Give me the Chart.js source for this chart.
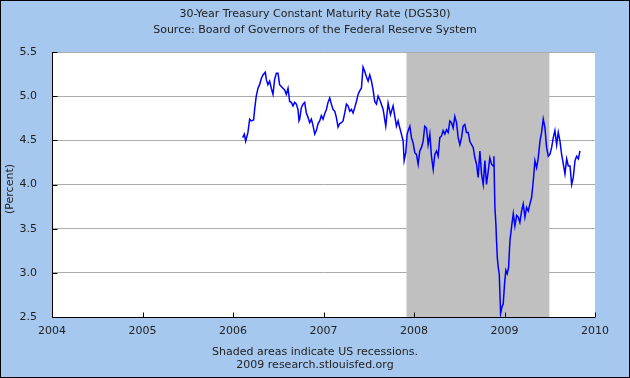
<!DOCTYPE html>
<html>
<head>
<meta charset="utf-8">
<script src="https://cdn.jsdelivr.net/npm/chart.js@4.4.1/dist/chart.umd.min.js"></script>
<style>
  html, body { margin: 0; padding: 0; background: #a6c8ee; }
  canvas { display: block; }
</style>
</head>
<body>
<canvas id="chart" width="630" height="378"></canvas>
<script>
// 30-Year Treasury Constant Maturity Rate (roughly weekly)
const yearFrac = [
  2006.107, 2006.125, 2006.140, 2006.165, 2006.184, 2006.202, 2006.228, 2006.239, 2006.257, 2006.276,
  2006.294, 2006.313, 2006.331, 2006.357, 2006.368, 2006.386, 2006.405, 2006.423, 2006.442, 2006.460,
  2006.479, 2006.497, 2006.515, 2006.534, 2006.552, 2006.571, 2006.589, 2006.608, 2006.626, 2006.644,
  2006.663, 2006.681, 2006.700, 2006.718, 2006.729, 2006.737, 2006.755, 2006.774, 2006.792, 2006.810,
  2006.829, 2006.847, 2006.866, 2006.884, 2006.903, 2006.921, 2006.940, 2006.958, 2006.976, 2006.995,
  2007.013, 2007.032, 2007.050, 2007.069, 2007.087, 2007.105, 2007.124, 2007.142, 2007.161, 2007.179,
  2007.198, 2007.216, 2007.235, 2007.253, 2007.271, 2007.290, 2007.308, 2007.327, 2007.345, 2007.364,
  2007.382, 2007.400, 2007.419, 2007.437, 2007.456, 2007.474, 2007.493, 2007.511, 2007.530, 2007.548,
  2007.566, 2007.585, 2007.603, 2007.622, 2007.659, 2007.688, 2007.714, 2007.740, 2007.769, 2007.788,
  2007.806, 2007.824, 2007.843, 2007.861, 2007.880, 2007.891, 2007.909, 2007.924, 2007.939, 2007.954,
  2007.972, 2007.990, 2008.009, 2008.027, 2008.046, 2008.064, 2008.083, 2008.101, 2008.119, 2008.138,
  2008.156, 2008.175, 2008.193, 2008.212, 2008.230, 2008.249, 2008.267, 2008.285, 2008.304, 2008.322,
  2008.341, 2008.359, 2008.378, 2008.396, 2008.414, 2008.433, 2008.451, 2008.470, 2008.488, 2008.507,
  2008.525, 2008.543, 2008.562, 2008.580, 2008.599, 2008.617, 2008.636, 2008.654, 2008.673, 2008.691,
  2008.709, 2008.728, 2008.746, 2008.765, 2008.783, 2008.801, 2008.820, 2008.838, 2008.857, 2008.875,
  2008.883, 2008.894, 2008.905, 2008.912, 2008.920, 2008.931, 2008.942, 2008.957, 2008.971, 2008.986,
  2009.001, 2009.015, 2009.030, 2009.045, 2009.060, 2009.078, 2009.097, 2009.115, 2009.134, 2009.152,
  2009.170, 2009.189, 2009.207, 2009.226, 2009.244, 2009.263, 2009.281, 2009.299, 2009.318, 2009.336,
  2009.355, 2009.373, 2009.392, 2009.410, 2009.428, 2009.447, 2009.465, 2009.484, 2009.502, 2009.521,
  2009.539, 2009.557, 2009.576, 2009.594, 2009.613, 2009.631, 2009.650, 2009.668, 2009.687, 2009.705,
  2009.724, 2009.742, 2009.760, 2009.779, 2009.797, 2009.816, 2009.834
];
const rate = [
  4.53, 4.57, 4.49, 4.59, 4.74, 4.72, 4.73, 4.85, 5.00, 5.09,
  5.13, 5.20, 5.24, 5.27, 5.19, 5.13, 5.17, 5.09, 5.02, 5.19,
  5.26, 5.26, 5.13, 5.11, 5.09, 5.07, 5.02, 5.09, 4.94, 4.93,
  4.89, 4.93, 4.91, 4.85, 4.72, 4.74, 4.87, 4.91, 4.93, 4.81,
  4.76, 4.70, 4.74, 4.67, 4.57, 4.61, 4.69, 4.72, 4.78, 4.74,
  4.80, 4.85, 4.93, 4.98, 4.91, 4.85, 4.83, 4.76, 4.65, 4.69,
  4.70, 4.72, 4.81, 4.91, 4.89, 4.83, 4.85, 4.81, 4.87, 4.94,
  5.02, 5.06, 5.09, 5.33, 5.28, 5.22, 5.17, 5.24, 5.17, 5.07,
  4.94, 4.91, 5.00, 4.96, 4.85, 4.66, 4.92, 4.79, 4.89, 4.77,
  4.66, 4.72, 4.64, 4.57, 4.49, 4.27, 4.36, 4.57, 4.62, 4.66,
  4.53, 4.47, 4.36, 4.34, 4.23, 4.38, 4.42, 4.49, 4.66, 4.64,
  4.45, 4.57, 4.32, 4.17, 4.34, 4.38, 4.32, 4.53, 4.55, 4.61,
  4.57, 4.62, 4.59, 4.72, 4.70, 4.64, 4.77, 4.70, 4.53, 4.45,
  4.53, 4.66, 4.68, 4.59, 4.59, 4.49, 4.45, 4.42, 4.30, 4.23,
  4.08, 4.38, 4.12, 4.00, 4.27, 4.00, 4.15, 4.30, 4.23, 4.21,
  4.32, 3.74, 3.55, 3.36, 3.18, 3.06, 2.99, 2.54, 2.61, 2.65,
  2.88, 3.03, 2.99, 3.06, 3.36, 3.52, 3.67, 3.53, 3.65, 3.63,
  3.57, 3.70, 3.78, 3.63, 3.74, 3.70, 3.78, 3.85, 4.04, 4.27,
  4.19, 4.30, 4.49, 4.59, 4.74, 4.64, 4.42, 4.32, 4.34, 4.42,
  4.53, 4.61, 4.45, 4.59, 4.49, 4.34, 4.23, 4.12, 4.29, 4.21,
  4.21, 4.00, 4.08, 4.27, 4.32, 4.29, 4.38
];

// recession (Dec 2007 - Jun 2009)
const recessionStart = 2007.917;
const recessionEnd = 2009.496;

const titleLines = ['30-Year Treasury Constant Maturity Rate (DGS30)', 'Source: Board of Governors of the Federal Reserve System'];
const footLines = ['Shaded areas indicate US recessions.', '2009 research.stlouisfed.org'];
const yTitle = '(Percent)';

const FONT = '11px "DejaVu Sans", Verdana, sans-serif';
const TEXT = '#222222';

const fredDecor = {
    id: 'fredDecor',
    beforeDraw(chart) {
        const ctx = chart.ctx;
        const a = chart.chartArea;
        ctx.save();
        ctx.fillStyle = '#a6c8ee';
        ctx.fillRect(0, 0, chart.width, chart.height);
        ctx.fillStyle = '#ffffff';
        ctx.fillRect(a.left, a.top, a.right - a.left, a.bottom - a.top);
        ctx.restore();
    },
    beforeDatasetsDraw(chart) {
        // recession shading goes over the grid but under the line
        const ctx = chart.ctx;
        const a = chart.chartArea;
        const x = chart.scales.x;
        const x0 = x.getPixelForValue(recessionStart);
        const x1 = x.getPixelForValue(recessionEnd);
        ctx.save();
        ctx.fillStyle = '#c0c0c0';
        ctx.fillRect(x0, a.top + 1, x1 - x0, a.bottom - a.top - 1);
        ctx.restore();
    },
    afterDraw(chart) {
        const ctx = chart.ctx;
        const a = chart.chartArea;
        const xs = chart.scales.x;
        const ys = chart.scales.y;
        const L = Math.round(a.left) + 0.5;
        const B = Math.round(a.bottom) + 0.5;
        ctx.save();
        ctx.strokeStyle = '#000000';
        ctx.lineWidth = 1;
        ctx.beginPath();
        ctx.moveTo(L, a.top);
        ctx.lineTo(L, B);
        ctx.lineTo(a.right, B);
        // inward tick marks
        ys.ticks.forEach(t => {
            const py = Math.round(ys.getPixelForValue(t.value)) + 0.5;
            ctx.moveTo(L, py);
            ctx.lineTo(L + 5, py);
        });
        xs.ticks.forEach(t => {
            const px = Math.round(xs.getPixelForValue(t.value)) + 0.5;
            ctx.moveTo(px, B);
            ctx.lineTo(px, B - 5);
        });
        ctx.stroke();

        ctx.fillStyle = TEXT;
        ctx.font = FONT;
        ctx.textAlign = 'center';
        ctx.textBaseline = 'middle';
        ctx.fillText(titleLines[0], 315, 14);
        ctx.fillText(titleLines[1], 315, 30);
        ctx.fillText(footLines[0], 315, 352);
        ctx.fillText(footLines[1], 315, 365);

        ctx.translate(10, 189);
        ctx.rotate(-Math.PI / 2);
        ctx.fillText(yTitle, 0, 0);

        ctx.restore();
        // outer frame
        ctx.save();
        ctx.strokeStyle = '#000000';
        ctx.strokeRect(0.5, 0.5, chart.width - 1, chart.height - 1);
        ctx.restore();
    }
};

const points = yearFrac.map((yr, i) => ({ x: yr, y: rate[i] }));

new Chart(document.getElementById('chart'), {
    type: 'line',
    data: {
        datasets: [{
            label: 'DGS30',
            data: points,
            borderColor: '#0000ff',
            borderWidth: 1.5,
            pointRadius: 0,
            tension: 0,
            fill: false
        }]
    },
    options: {
        responsive: false,
        animation: false,
        devicePixelRatio: 1,
        layout: { padding: { top: 52, right: 35, left: 0, bottom: 0 } },
        plugins: {
            legend: { display: false },
            tooltip: { enabled: false }
        },
        scales: {
            x: {
                type: 'linear',
                min: 2004,
                max: 2010,
                grid: { display: false, drawTicks: false },
                border: { display: false },
                ticks: {
                    stepSize: 1,
                    padding: 8,
                    color: TEXT,
                    font: { family: '"DejaVu Sans", Verdana, sans-serif', size: 11 },
                    maxRotation: 0,
                    callback: v => String(v)
                },
                afterFit: s => { s.height = 61; }
            },
            y: {
                min: 2.5,
                max: 5.5,
                grid: { color: '#aaaaaa', drawTicks: false },
                border: { display: false },
                ticks: {
                    stepSize: 0.5,
                    padding: 15,
                    color: TEXT,
                    font: { family: '"DejaVu Sans", Verdana, sans-serif', size: 11 },
                    callback: v => v.toFixed(1)
                },
                afterFit: s => { s.width = 52; }
            }
        }
    },
    plugins: [fredDecor]
});
</script>
</body>
</html>
